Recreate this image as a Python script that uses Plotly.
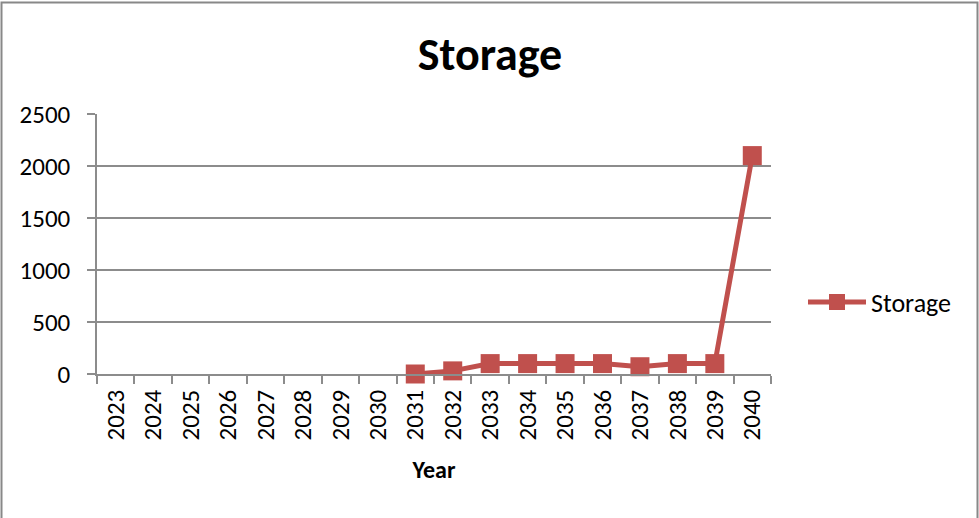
import plotly.graph_objects as go

years = [str(y) for y in range(2023, 2041)]
storage = [None, None, None, None, None, None, None, None,
           0, 30, 100, 100, 100, 100, 70, 100, 100, 2100]
y_ticks = [0, 500, 1000, 1500, 2000, 2500]

W, H = 979, 518
L, R, T, B = 97, 208, 114, 144
pw, ph = W - L - R, H - T - B

def px(x):
    return (x - L) / pw

def py(y):
    return (H - B - y) / ph

FONT = "Carlito, Lato, sans-serif"
RED = "#C0504D"
GRID = "#8C8C8C"

fig = go.Figure()
fig.add_trace(go.Scatter(
    x=years, y=storage, name="Storage", mode="lines+markers",
    line=dict(color=RED, width=5),
    marker=dict(symbol="square", size=19, color=RED),
    cliponaxis=False,
))

fig.update_layout(
    width=W, height=H,
    margin=dict(l=L, r=R, t=T, b=B, autoexpand=False),
    paper_bgcolor="white", plot_bgcolor="white",
    font=dict(family=FONT, size=25, color="black"),
    title=dict(text="<b>Storage</b>", x=490 / W, xanchor="center",
               y=1 - 54 / H, yanchor="middle",
               font=dict(family=FONT, size=46, color="black")),
    showlegend=True,
    legend=dict(x=px(803), y=py(302), xanchor="left", yanchor="middle",
                itemwidth=58,
                font=dict(family=FONT, size=26), bgcolor="rgba(0,0,0,0)"),
    xaxis=dict(
        type="category", categoryorder="array", categoryarray=years,
        range=[-0.5, len(years) - 0.5], autorange=False,
        tickangle=-90, tickson="boundaries", ticks="outside", ticklen=8,
        tickcolor=GRID, tickwidth=1.5,
        showline=True, linecolor=GRID, linewidth=1.5,
        showgrid=False, zeroline=False,
        tickfont=dict(family=FONT, size=25),
        ticklabelstandoff=4,
        title=dict(text="<b>Year</b>", font=dict(family=FONT, size=24), standoff=22),
    ),
    yaxis=dict(
        range=[0, 2500], autorange=False, tickvals=y_ticks,
        ticks="outside", ticklen=8, tickcolor=GRID, tickwidth=1.5,
        showline=True, linecolor=GRID, linewidth=1.5,
        showgrid=True, gridcolor=GRID, gridwidth=1.5,
        zeroline=False,
        tickfont=dict(family=FONT, size=25),
        ticklabelstandoff=12,
    ),
    shapes=[dict(type="rect", xref="paper", yref="paper",
                 x0=px(1.5), x1=px(977.5), y0=py(2.5), y1=py(530),
                 line=dict(color="#888888", width=2), layer="below")],
)

fig.write_html("out.html", config={"displayModeBar": False},
               post_script="document.body.style.margin='0';document.body.style.overflow='hidden';")
